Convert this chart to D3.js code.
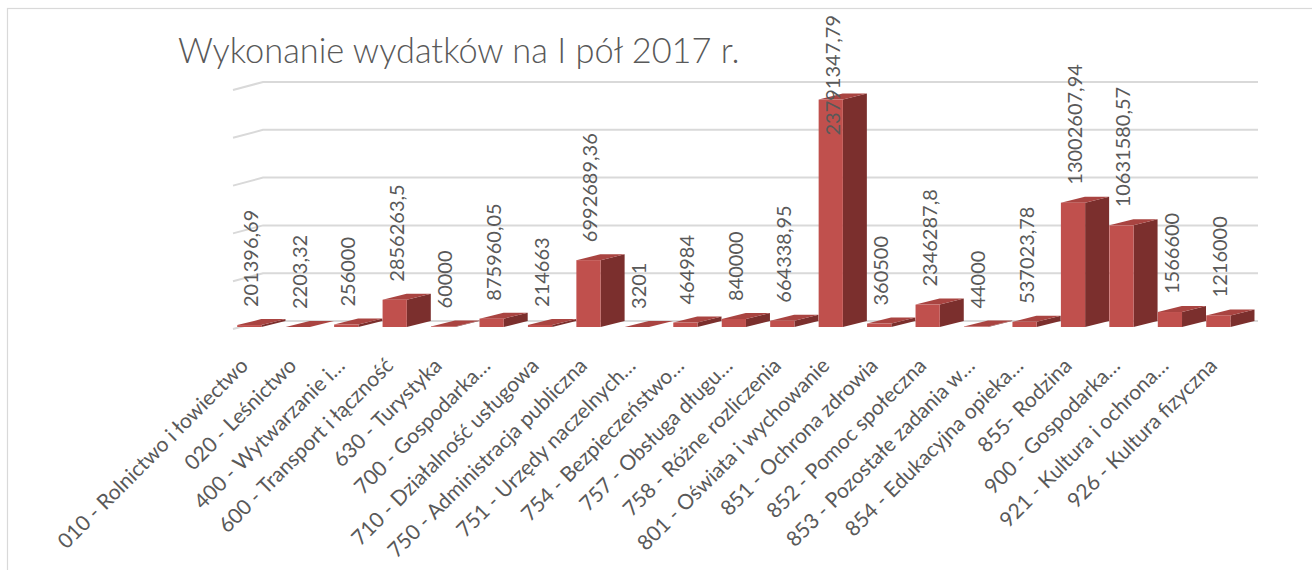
<!DOCTYPE html>
<html><head><meta charset="utf-8">
<script src="https://cdn.jsdelivr.net/npm/d3@7"></script>
<style>body{margin:0;background:#fff;overflow:hidden} svg{display:block}</style>
</head><body>
<script>
const titleText = "Wykonanie wydatków na I pół 2017 r.";
const categories = [
  "010 - Rolnictwo i łowiectwo","020 - Leśnictwo","400 - Wytwarzanie i…",
  "600 - Transport i łączność","630 - Turystyka","700 - Gospodarka…",
  "710 - Działalność usługowa","750 - Administracja publiczna","751 - Urzędy naczelnych…",
  "754 - Bezpieczeństwo…","757 - Obsługa długu…","758 - Różne rozliczenia",
  "801 - Oświata i wychowanie","851 - Ochrona zdrowia","852 - Pomoc społeczna",
  "853 - Pozostałe zadania w…","854 - Edukacyjna opieka…","855- Rodzina",
  "900 - Gospodarka…","921 - Kultura i ochrona…","926 - Kultura fizyczna"
];
const values = [201396.69, 2203.32, 256000, 2856263.5, 60000, 875960.05, 214663,
  6992689.36, 3201, 464984, 840000, 664338.95, 23791347.79, 360500, 2346287.8,
  44000, 537023.78, 13002607.94, 10631580.57, 1566600, 1216000];
const yTicks = [0, 5000000, 10000000, 15000000, 20000000, 25000000];

const W = 1312, H = 570;
const svg = d3.select("body").append("svg").attr("width", W).attr("height", H);
const FONT = "Lato, 'Open Sans', sans-serif";
const GRAY = "#595959";

// chart frame
svg.append("rect").attr("x", 7.5).attr("y", 8.5).attr("width", W).attr("height", H)
  .attr("fill", "none").attr("stroke", "#d9d9d9").attr("stroke-width", 1.2);

// title
const title = svg.append("text").attr("x", 178).attr("y", 63)
  .attr("font-family", FONT).attr("font-weight", 300).attr("font-size", 34).attr("fill", GRAY).text(titleText);
{
  const len = title.node().getComputedTextLength();
  title.attr("font-size", 34 * 562 / len);
}

// scales
const x = d3.scaleBand().domain(categories).range([213, 1254.7]).paddingInner(0.5).paddingOuter(0.5);
const y = d3.scaleLinear().domain([0, 25000000]).range([321, 82]);
const bw = x.bandwidth();
const dX = 24, dY = 6;      // bar depth
const wX = 30, wY = 8;      // wall depth
const gridRight = 1258;

// gridlines (back wall + side wall slant)
svg.append("g").selectAll("path").data(yTicks).join("path")
  .attr("d", t => `M${x.range()[0] + 20},${y(t) + wY}L${x.range()[0] + 20 + wX},${y(t)}L${gridRight},${y(t)}`)
  .attr("fill", "none").attr("stroke", "#d9d9d9").attr("stroke-width", 2);

// bars
const bars = svg.append("g").selectAll("g").data(categories).join("g");
bars.each(function (c, i) {
  const g = d3.select(this);
  const x0 = x(c), x1 = x0 + bw;
  const yb = y(values[i]);        // back top
  const yf = yb + dY;             // front top
  const fb = y(0) + dY;           // front bottom
  g.append("path").attr("d", `M${x1},${yf}L${x1 + dX},${yb}L${x1 + dX},${y(0)}L${x1},${fb}Z`).attr("fill", "#7b2f2d");
  g.append("path").attr("d", `M${x0},${yf}L${x0 + dX},${yb}L${x1 + dX},${yb}L${x1},${yf}Z`).attr("fill", "#a94441");
  g.append("rect").attr("x", x0).attr("y", yf).attr("width", bw).attr("height", Math.max(0, fb - yf)).attr("fill", "#c0504d");
});

// data labels
const fmt = v => String(v).replace(".", ",");
const dl = svg.append("g").selectAll("text").data(categories).join("text")
  .attr("font-family", FONT).attr("font-size", 20).attr("fill", GRAY)
  .attr("dy", "0.35em").text((c, i) => fmt(values[i]));
dl.each(function (c, i) {
  const len = this.getComputedTextLength();
  const ay = Math.max(y(values[i]) - 12, 15 + len);
  d3.select(this).attr("transform", `translate(${x(c) + bw / 2 + 2},${ay}) rotate(-90)`);
});

// category labels
svg.append("g").selectAll("text").data(categories).join("text")
  .attr("font-family", FONT).attr("font-size", 21).attr("fill", GRAY)
  .attr("text-anchor", "end")
  .attr("transform", c => `translate(${x(c) + bw / 2},${367}) rotate(-45)`)
  .text(c => c);
</script>
</body></html>
